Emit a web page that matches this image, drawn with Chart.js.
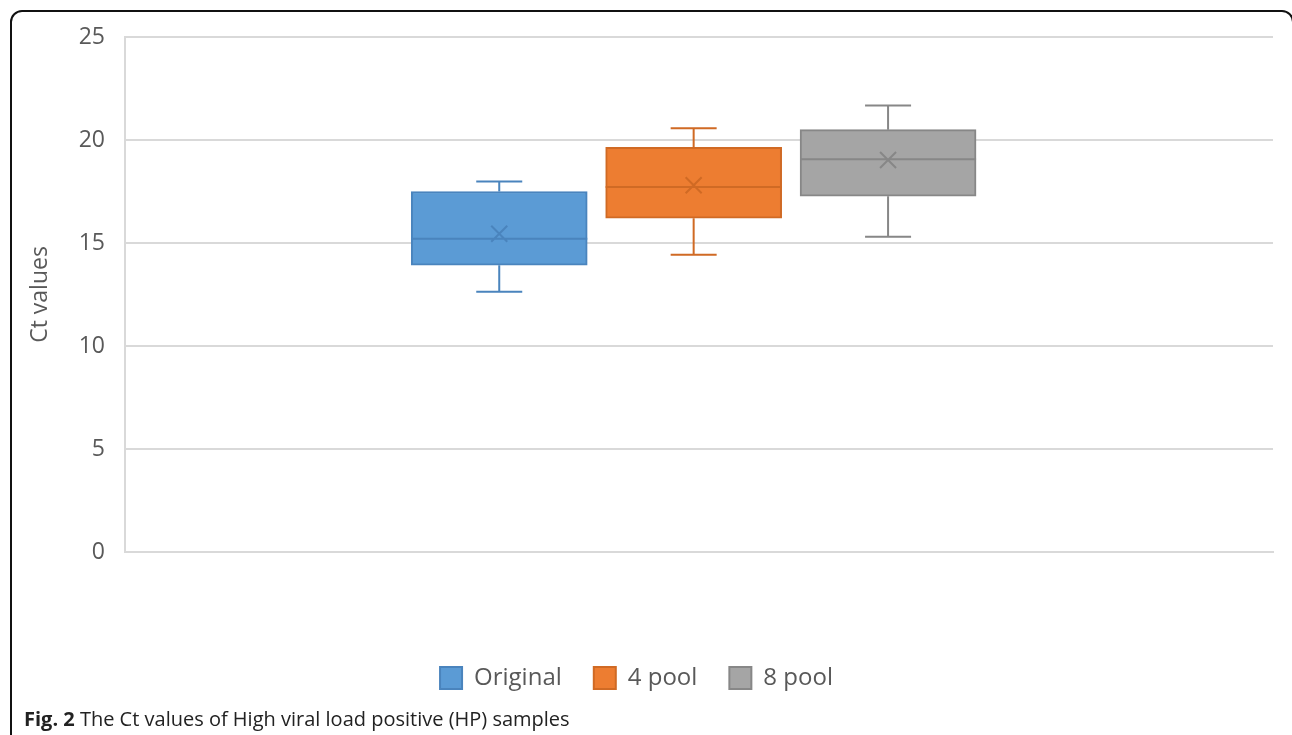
<!DOCTYPE html>
<html>
<head>
<meta charset="utf-8">
<script src="https://cdn.jsdelivr.net/npm/chart.js@4.4.1/dist/chart.umd.min.js"></script>
<style>
  html, body { margin: 0; padding: 0; background: #fff; }
  body { width: 1292px; height: 735px; position: relative; overflow: hidden; font-family: "Open Sans", sans-serif; }
  #frame {
    position: absolute; left: 10px; top: 10px; width: 1284px; height: 800px;
    border: 2px solid #111; border-radius: 12px; box-sizing: border-box;
  }
  #wrap { position: absolute; left: 0; top: 0; width: 1292px; height: 735px; }
  #caption {
    position: absolute; left: 24px; top: 709px; font-size: 20px; line-height: 20px; color: #222;
    white-space: nowrap;
  }
  #caption b { font-weight: 700; }
</style>
</head>
<body>
<div id="frame"></div>
<div id="wrap"><canvas id="chart" width="1292" height="735"></canvas></div>
<div id="caption"><b>Fig. 2</b> The Ct values of High viral load positive (HP) samples</div>
<script>
// Ct value summaries per sample group
const categories  = ['Original', '4 pool', '8 pool'];
const whiskerLow  = [12.63, 14.43, 15.3];
const quartile1   = [13.92, 16.2, 17.27];
const medians     = [15.21, 17.72, 19.07];
const quartile3   = [17.5, 19.65, 20.5];
const whiskerHigh = [17.98, 20.57, 21.68];
const means       = [15.45, 17.8, 19.03];
const yTicks      = [0, 5, 10, 15, 20, 25];

const fills   = ['#5b9bd5', '#ed7d31', '#a5a5a5'];
const strokes = ['#4a84bd', '#d06a24', '#878787'];

// whiskers, median line and mean marker on top of each box
const boxExtras = {
  id: 'boxExtras',
  afterDatasetsDraw(chart) {
    const ctx = chart.ctx;
    const y = chart.scales.y;
    chart.data.datasets.forEach((ds, i) => {
      const bar = chart.getDatasetMeta(i).data[0];
      if (!bar) return;
      const cx = bar.x;
      const half = bar.width / 2;
      const cap = 23;
      const pLow = y.getPixelForValue(whiskerLow[i]);
      const pQ1 = y.getPixelForValue(quartile1[i]);
      const pQ3 = y.getPixelForValue(quartile3[i]);
      const pHigh = y.getPixelForValue(whiskerHigh[i]);
      const pMed = y.getPixelForValue(medians[i]);
      const pMean = y.getPixelForValue(means[i]);
      ctx.save();
      ctx.strokeStyle = strokes[i];
      ctx.lineWidth = 2;
      ctx.lineCap = 'butt';
      ctx.beginPath();
      ctx.moveTo(cx, pQ3); ctx.lineTo(cx, pHigh);
      ctx.moveTo(cx - cap, pHigh); ctx.lineTo(cx + cap, pHigh);
      ctx.moveTo(cx, pQ1); ctx.lineTo(cx, pLow);
      ctx.moveTo(cx - cap, pLow); ctx.lineTo(cx + cap, pLow);
      ctx.moveTo(cx - half, pMed); ctx.lineTo(cx + half, pMed);
      const m = 8;
      ctx.moveTo(cx - m, pMean - m); ctx.lineTo(cx + m, pMean + m);
      ctx.moveTo(cx - m, pMean + m); ctx.lineTo(cx + m, pMean - m);
      ctx.stroke();
      ctx.restore();
    });
  }
};

const datasets = categories.map((name, i) => ({
  label: name,
  data: [{ x: i + 1, y: [quartile1[i], quartile3[i]] }],
  backgroundColor: fills[i],
  borderColor: strokes[i],
  borderWidth: 2,
  borderSkipped: false,
  grouped: false,
  barThickness: 176
}));

new Chart(document.getElementById('chart'), {
  type: 'bar',
  data: { datasets },
  plugins: [boxExtras],
  options: {
    responsive: false,
    animation: false,
    layout: { padding: { left: 0, right: 19, top: 37, bottom: 35 } },
    plugins: {
      legend: {
        position: 'bottom',
        labels: {
          boxWidth: 22, boxHeight: 22, padding: 32,
          color: '#595959',
          font: { family: 'Open Sans', size: 24 }
        }
      },
      tooltip: { enabled: false }
    },
    scales: {
      x: {
        type: 'linear',
        offset: false,
        min: -0.925, max: 4.98,
        ticks: { display: false },
        grid: { display: false, drawTicks: false },
        border: { display: true, color: '#d9d9d9', width: 2 },
        afterFit(scale) { scale.height = 82; }
      },
      y: {
        min: 0, max: 25,
        afterBuildTicks(scale) { scale.ticks = yTicks.map(v => ({ value: v })); },
        ticks: {
          color: '#595959', padding: 20,
          font: { family: 'Open Sans', size: 23 }
        },
        grid: { color: '#d9d9d9', lineWidth: 2, drawTicks: false },
        border: { display: true, color: '#d9d9d9', width: 2 },
        title: {
          display: true, text: 'Ct values', color: '#595959',
          font: { family: 'Open Sans', size: 23 },
          padding: { top: 27, bottom: 0 }
        },
        afterFit(scale) { scale.width = 125; }
      }
    }
  }
});
</script>
</body>
</html>
